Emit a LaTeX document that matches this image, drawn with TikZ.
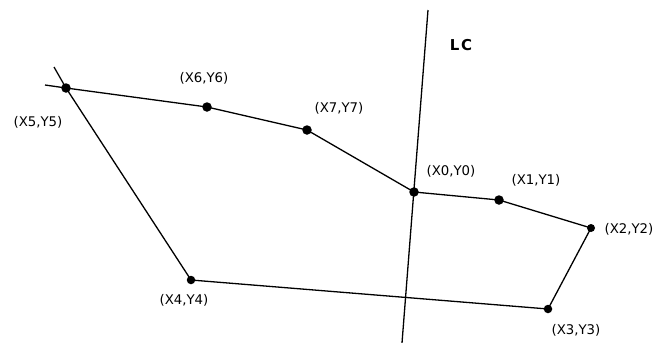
\documentclass[tikz,border=0pt]{standalone}
\usepackage{fontspec}
\setmainfont{DejaVu Sans}
\begin{document}
\begin{tikzpicture}[x=1pt,y=-1pt,
  edge/.style={draw=black,line width=1.3pt},
  vdot/.style={circle,fill=black,inner sep=0pt,minimum size=9.5pt},
  lbl/.style={font=\fontsize{13.3}{15}\selectfont,inner sep=0pt}]
\useasboundingbox (0,0) rectangle (654,343);
% vertices
\node[vdot] (p0) at (414,192) {};
\node[vdot] (p1) at (499,200) {};
\node[vdot,minimum size=8pt] (p2) at (591,228) {};
\node[vdot,minimum size=8.5pt] (p3) at (548,309) {};
\node[vdot,minimum size=8.5pt] (p4) at (191,280) {};
\node[vdot] (p5) at (66,88) {};
\node[vdot] (p6) at (207,107) {};
\node[vdot] (p7) at (307,130) {};
\coordinate (e5a) at (45,85);
\coordinate (e5b) at (54,67);
\coordinate (lct) at (428,10);
\coordinate (lcb) at (402,343);
% edges
\draw[edge] (e5a) -- (p5.center) -- (p6.center) -- (p7.center) -- (p0.center) -- (p1.center) -- (p2.center) -- (p3.center) -- (p4.center) -- (p5.center) -- (e5b);
\draw[edge] (lct) -- (lcb);
% labels
\node[lbl] (l0) at (451,171) {(X0,Y0)};
\node[lbl] (l1) at (536,180) {(X1,Y1)};
\node[lbl] (l2) at (629,229) {(X2,Y2)};
\node[lbl] (l3) at (576,330) {(X3,Y3)};
\node[lbl] (l4) at (184,300) {(X4,Y4)};
\node[lbl] (l5) at (38,122) {(X5,Y5)};
\node[lbl] (l6) at (204,78) {(X6,Y6)};
\node[lbl] (l7) at (339,108) {(X7,Y7)};
\node[font=\fontsize{15}{17}\bfseries,inner sep=0pt] (lc) at (461,45) {L\hspace{1.5pt}C};
\end{tikzpicture}
\end{document}
